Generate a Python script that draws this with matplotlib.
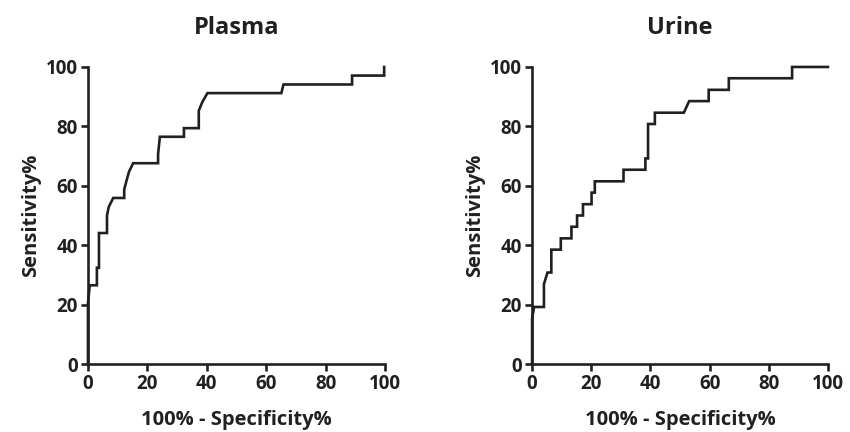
import numpy as np
import matplotlib.pyplot as plt

plt.rcParams['font.family'] = ['Open Sans', 'DejaVu Sans']
plt.rcParams['font.weight'] = 'bold'

# ROC points (100% - specificity%, sensitivity%)
plasma_fpr = [0, 0, 0.6, 3.0, 3.0, 3.7, 3.7, 6.4, 6.4, 7.0, 8.5, 12.2, 12.2, 13.0, 13.8,
              15.2, 23.6, 23.6, 24.2, 32.3, 32.3, 37.3, 37.3, 38.5, 40.2, 65.1, 65.8,
              88.9, 88.9, 99.7, 99.7]
plasma_tpr = [0, 20.6, 26.5, 26.5, 32.4, 32.4, 44.1, 44.1, 50.0, 52.9, 55.9, 55.9, 58.8,
              61.8, 64.7, 67.6, 67.6, 70.6, 76.5, 76.5, 79.4, 79.4, 85.3, 88.2, 91.2,
              91.2, 94.1, 94.1, 97.1, 97.1, 100]

urine_fpr = [0, 0, 0.7, 4.0, 4.0, 5.2, 6.5, 6.5, 9.7, 9.7, 13.3, 13.3, 15.2, 15.2, 17.2,
             17.2, 20.1, 20.1, 21.2, 21.2, 30.9, 30.9, 38.3, 38.3, 39.2, 39.2, 41.5,
             41.5, 51.3, 53.1, 59.7, 59.7, 66.5, 66.5, 87.9, 87.9, 100]
urine_tpr = [0, 15.4, 19.2, 19.2, 26.9, 30.8, 30.8, 38.5, 38.5, 42.3, 42.3, 46.2, 46.2,
             50.0, 50.0, 53.8, 53.8, 57.7, 57.7, 61.5, 61.5, 65.4, 65.4, 69.2, 69.2,
             80.8, 80.8, 84.6, 84.6, 88.5, 88.5, 92.3, 92.3, 96.2, 96.2, 100, 100]

titles = ["Plasma", "Urine"]
ticks = [0, 20, 40, 60, 80, 100]
ink = "#231f20"

fig = plt.figure(figsize=(8.5, 4.32), dpi=100)
ax1 = fig.add_axes([0.1035, 0.1574, 0.3495, 0.6876])
ax2 = fig.add_axes([0.626, 0.1574, 0.348, 0.6876])

for ax, fpr, tpr, title in [(ax1, plasma_fpr, plasma_tpr, titles[0]),
                            (ax2, urine_fpr, urine_tpr, titles[1])]:
    ax.plot(fpr, tpr, color=ink, lw=1.9, solid_joinstyle="miter", clip_on=False, zorder=3)
    ax.set_xlim(0, 100)
    ax.set_ylim(0, 100)
    ax.set_xticks(ticks)
    ax.set_yticks(ticks)
    ax.spines["top"].set_visible(False)
    ax.spines["right"].set_visible(False)
    for s in ["left", "bottom"]:
        ax.spines[s].set_linewidth(1.9)
        ax.spines[s].set_color(ink)
    ax.tick_params(direction="out", length=5, width=1.9, color=ink,
                   labelsize=13.5, labelcolor=ink, pad=2.5)
    ax.set_title(title, fontsize=17, fontweight="bold", color=ink, pad=24)
    ax.set_xlabel("100% - Specificity%", fontsize=14.5, fontweight="bold", color=ink, labelpad=11)
    ax.set_ylabel("Sensitivity%", fontsize=14.5, fontweight="bold", color=ink, labelpad=3)

fig.savefig("out.png", dpi=100)
